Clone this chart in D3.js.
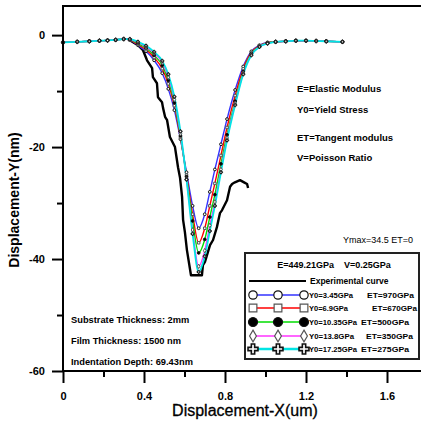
<!DOCTYPE html>
<html>
<head>
<meta charset="utf-8">
<script src="https://cdn.jsdelivr.net/npm/d3@7"></script>
<style>
  body { margin: 0; background: #fff; }
  svg { display: block; font-family: "Liberation Sans", Arial, sans-serif; }
</style>
</head>
<body>
<script>
// simulated curves share the same x nodes
var flatLeftX = [0, 0.07, 0.13, 0.18, 0.22, 0.26, 0.30];
var dipX = [0.33, 0.37, 0.41, 0.45, 0.49, 0.52, 0.55, 0.58, 0.61, 0.64, 0.67, 0.70, 0.725, 0.75, 0.78, 0.81, 0.85, 0.89, 0.93, 0.97, 1.01];
var flatRightX = [1.05, 1.10, 1.15, 1.20, 1.25, 1.30, 1.38];

var flatLeftY = [-1.3, -1.2, -1.1, -1.0, -0.95, -0.85, -0.7];
var flatRightY = [-1.2, -1.1, -1.0, -1.0, -1.05, -1.1, -1.2];

var blueDip    = [-0.9, -1.8, -2.9, -4.5, -6.8, -9.6, -13.4, -18.6, -24.5, -30.5, -34.5, -32.0, -28.0, -24.0, -19.5, -15.0, -9.8, -5.6, -2.9, -1.8, -1.3];
var redDip     = [-0.85, -1.7, -2.6, -4.0, -6.0, -8.7, -12.6, -18.3, -25.0, -32.0, -37.1, -34.5, -30.5, -26.5, -21.5, -16.5, -10.8, -6.0, -3.1, -1.9, -1.35];
var greenDip   = [-0.8, -1.5, -2.3, -3.6, -5.4, -8.1, -12.1, -18.0, -25.3, -33.2, -38.9, -36.5, -32.5, -28.5, -23.0, -17.8, -11.8, -6.5, -3.3, -2.0, -1.4];
var magentaDip = [-0.75, -1.3, -2.1, -3.2, -4.9, -7.5, -11.5, -17.6, -25.7, -34.8, -41.3, -38.5, -34.0, -29.8, -24.0, -18.4, -12.2, -6.8, -3.5, -2.05, -1.45];
var cyanDip    = [-0.7, -1.2, -1.9, -3.0, -4.6, -7.0, -11.0, -17.2, -25.8, -35.5, -42.3, -39.5, -35.0, -30.5, -24.5, -18.8, -12.5, -7.0, -3.6, -2.1, -1.5];

// experimental curve
var expX = [0.33, 0.37, 0.395, 0.415, 0.44, 0.444, 0.464, 0.469, 0.489, 0.494, 0.504, 0.514, 0.528, 0.553, 0.568, 0.578, 0.588, 0.593, 0.602, 0.612, 0.632,
            0.686, 0.691, 0.701, 0.726, 0.741, 0.760, 0.775, 0.785, 0.810, 0.825, 0.835, 0.849, 0.874, 0.894, 0.909, 0.914];
var expY = [-0.9, -1.8, -2.7, -4.5, -5.9, -7.5, -8.6, -11.1, -12.0, -13.0, -14.6, -15.2, -18.2, -20.0, -23.6, -25.5, -28.9, -33.0, -35.2, -38.4, -42.9,
            -42.9, -41.1, -40.5, -37.5, -36.6, -34.3, -31.8, -31.3, -29.5, -27.1, -26.6, -26.3, -25.9, -26.3, -26.6, -27.3];

var seriesNames = ['Y0=3.45GPa', 'Y0=6.9GPa', 'Y0=10.35GPa', 'Y0=13.8GPa', 'Y0=17.25GPa'];
var etNames = ['ET=970GPa', 'ET=670GPa', 'ET=500GPa', 'ET=350GPa', 'ET=275GPa'];
var seriesColors = ['#3333ff', '#ff0000', '#00dd00', '#ff33ff', '#00e5e5'];
var seriesDips = [blueDip, redDip, greenDip, magentaDip, cyanDip];

var xTicks = [0, 0.4, 0.8, 1.2, 1.6];
var xMinor = [0.2, 0.6, 1.0, 1.4, 1.8];
var yTicks = [0, -20, -40, -60];
var yMinor = [-10, -30, -50];

var notes = ['E=Elastic Modulus', 'Y0=Yield Stress', 'ET=Tangent modulus', 'V=Poisson Ratio'];
var leftNotes = ['Substrate Thickness: 2mm', 'Film Thickness: 1500 nm', 'Indentation Depth: 69.43nm'];

var simX = flatLeftX.concat(dipX, flatRightX);
var series = seriesDips.map(function(dip, i) {
  var ys = flatLeftY.concat(dip, flatRightY);
  return { name: seriesNames[i], et: etNames[i], color: seriesColors[i], idx: i,
           pts: simX.map(function(x, j) { return { x: x, y: ys[j] }; }) };
});
var expPts = expX.map(function(x, j) { return { x: x, y: expY[j] }; });

const W = 421, H = 425;

var x = d3.scaleLinear().domain([0, 2]).range([63, 468]);
var y = d3.scaleLinear().domain([-60, 5.2]).range([371, 6]);

var svg = d3.select('body').append('svg').attr('width', W).attr('height', H);

// symbols per series: hollow circle, square, filled circle, diamond, cross
var symTypes = [d3.symbolCircle, d3.symbolSquare, d3.symbolCircle, d3.symbolDiamond, d3.symbolCross];
function drawMarker(g, i, cx, cy, size, sw) {
  g.append('path')
    .attr('d', d3.symbol().type(symTypes[i]).size(size)())
    .attr('transform', 'translate(' + cx + ',' + cy + ')')
    .attr('fill', i == 2 ? '#000' : '#fff')
    .attr('stroke', i == 1 || i == 3 ? '#555' : '#111')
    .attr('stroke-width', sw);
}

var line = d3.line().x(d => x(d.x)).y(d => y(d.y));

// experimental curve
svg.append('path')
  .datum(expPts)
  .attr('d', line)
  .attr('fill', 'none')
  .attr('stroke', '#000')
  .attr('stroke-width', 2.4)
  .attr('stroke-linejoin', 'round');

var smooth = d3.line().x(d => x(d.x)).y(d => y(d.y)).curve(d3.curveMonotoneX);

series.forEach(function(s) {
  svg.append('path')
    .datum(s.pts)
    .attr('d', smooth)
    .attr('fill', 'none')
    .attr('stroke', s.color)
    .attr('stroke-width', s.idx == 4 ? 1.8 : 1.4);
});
series.forEach(function(s) {
  var g = svg.append('g');
  s.pts.forEach(function(p) {
    drawMarker(g, s.idx, x(p.x), y(p.y), 6, 1);
  });
});

// frame
svg.append('path')
  .attr('d', 'M' + x(2) + ',' + y(5.2) + 'H' + x(0) + 'V' + y(-60) + 'H' + x(2))
  .attr('fill', 'none')
  .attr('stroke', '#000')
  .attr('stroke-width', 2);

// axes
var yAxis = svg.append('g')
  .attr('transform', 'translate(' + x(0) + ',0)')
  .call(d3.axisLeft(y).tickValues(yTicks).tickSize(11).tickPadding(7).tickFormat(d => String(d)));
var yAxisMinor = svg.append('g')
  .attr('transform', 'translate(' + x(0) + ',0)')
  .call(d3.axisLeft(y).tickValues(yMinor).tickSize(6).tickFormat(''));
var xAxis = svg.append('g')
  .attr('transform', 'translate(0,' + y(-60) + ')')
  .call(d3.axisBottom(x).tickValues(xTicks).tickSize(12).tickPadding(9).tickFormat(d => String(d)));
var xAxisMinor = svg.append('g')
  .attr('transform', 'translate(0,' + y(-60) + ')')
  .call(d3.axisBottom(x).tickValues(xMinor).tickSize(6).tickFormat(''));

[yAxis, yAxisMinor, xAxis, xAxisMinor].forEach(function(a) {
  a.select('.domain').remove();
  a.selectAll('line').attr('stroke', '#000').attr('stroke-width', 2);
  a.selectAll('text')
    .attr('fill', '#000')
    .style('font-family', '"Liberation Sans", Arial, sans-serif')
    .style('font-size', '11px')
    .style('font-weight', 'bold');
});

svg.append('text')
  .attr('x', 245).attr('y', 416)
  .attr('text-anchor', 'middle')
  .style('font-size', '16px')
  .style('stroke', '#000').style('stroke-width', 0.3)
  .text('Displacement-X(um)');

svg.append('text')
  .attr('transform', 'translate(19,200) rotate(-90)')
  .attr('text-anchor', 'middle')
  .style('font-size', '14px')
  .style('font-weight', 'bold')
  .text('Displacement-Y(nm)');

// annotations
var noteY = [92, 113, 141, 161];
notes.forEach(function(t, i) {
  svg.append('text')
    .attr('x', 297).attr('y', noteY[i])
    .style('font-size', '9.5px')
    .style('font-weight', 'bold')
    .text(t);
});
var leftNoteY = [323, 344, 365];
leftNotes.forEach(function(t, i) {
  svg.append('text')
    .attr('x', 71).attr('y', leftNoteY[i])
    .style('font-size', '9.3px')
    .style('font-weight', 'bold')
    .text(t);
});
svg.append('text')
  .attr('x', 343).attr('y', 243)
  .style('font-size', '9px')
  .text('Ymax=34.5 ET=0');

// legend
var lg = svg.append('g');
lg.append('rect')
  .attr('x', 245).attr('y', 253).attr('width', 174).attr('height', 106)
  .attr('fill', '#fff').attr('stroke', '#222').attr('stroke-width', 2);
lg.append('text')
  .attr('x', 334).attr('y', 268)
  .attr('text-anchor', 'middle')
  .style('font-size', '9px')
  .style('font-weight', 'bold')
  .attr('xml:space', 'preserve')
  .text('E=449.21GPa    V=0.25GPa');
lg.append('line')
  .attr('x1', 249).attr('x2', 306).attr('y1', 281).attr('y2', 281)
  .attr('stroke', '#000').attr('stroke-width', 2.2);
lg.append('text')
  .attr('x', 310).attr('y', 284)
  .style('font-size', '8.5px')
  .style('font-weight', 'bold')
  .text('Experimental curve');

var rowY = [295, 308, 322, 336, 349];
var etX = [367, 372, 361, 366, 361];
var nameLen = [44, 39, 48, 45, 48];
var etLen = [47, 45, 48, 47, 48];
var legSizes = [55, 60, 64, 40, 55];
series.forEach(function(s, i) {
  lg.append('line')
    .attr('x1', 253).attr('x2', 304).attr('y1', rowY[i]).attr('y2', rowY[i])
    .attr('stroke', s.color).attr('stroke-width', i == 4 ? 2.5 : 1.5);
  [253, 278, 304].forEach(function(mx) {
    drawMarker(lg, i, mx, rowY[i], legSizes[i], i == 4 ? 1.6 : 1.2);
  });
  lg.append('text')
    .attr('x', 309).attr('y', rowY[i] + 3)
    .attr('textLength', nameLen[i]).attr('lengthAdjust', 'spacingAndGlyphs')
    .style('font-size', '8px')
    .style('font-weight', 'bold')
    .text(s.name);
  lg.append('text')
    .attr('x', etX[i]).attr('y', rowY[i] + 3)
    .attr('textLength', etLen[i]).attr('lengthAdjust', 'spacingAndGlyphs')
    .style('font-size', '8px')
    .style('font-weight', 'bold')
    .text(s.et);
});
</script>
</body>
</html>
